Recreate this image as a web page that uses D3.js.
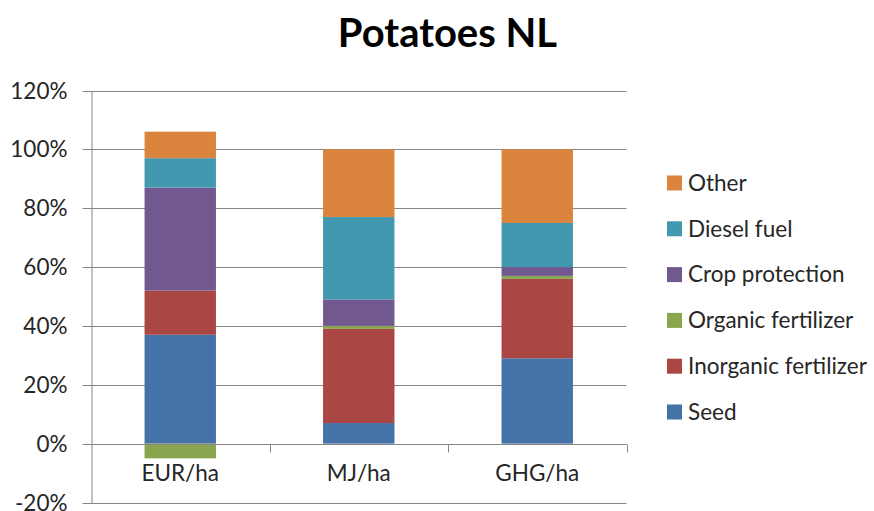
<!DOCTYPE html>
<html><head><meta charset="utf-8">
<script src="https://cdn.jsdelivr.net/npm/d3@7"></script>
<style>body{margin:0;background:#fff}svg{display:block}text{font-family:Lato,"Open Sans",sans-serif}</style>
</head><body><svg id="c" width="874" height="511"></svg>
<script>
const categories = ["EUR/ha", "MJ/ha", "GHG/ha"];
const seriesNames = ["Seed", "Inorganic fertilizer", "Organic fertilizer", "Crop protection", "Diesel fuel", "Other"];
const seed = [37, 7, 29];
const inorganic = [15, 32, 27];
const organic = [-5, 1, 1];
const crop = [35, 9, 3];
const diesel = [10, 28, 15];
const other = [9, 23, 25];
const yTicks = [-20, 0, 20, 40, 60, 80, 100, 120];
const colors = ["#4572A7", "#AA4643", "#89A54E", "#71588F", "#4198AF", "#DB843D"];

const seriesValues = [seed, inorganic, organic, crop, diesel, other];
const table = categories.map((c, i) => {
  const row = {cat: c};
  seriesNames.forEach((s, j) => row[s] = seriesValues[j][i]);
  return row;
});

const svg = d3.select("#c");
svg.append("rect").attr("width", 874).attr("height", 511).attr("fill", "#fff");
const left = 91, right = 626.5;
const x = d3.scaleBand().domain(categories).range([left, right]).paddingInner(0.6).paddingOuter(0.3);
const y = d3.scaleLinear().domain([-20, 120]).range([502.5, 90.5]);
const grid = "#868686";
const fs = 22.5;

// gridlines
svg.append("g").selectAll("line").data(yTicks).join("line")
  .attr("x1", left).attr("x2", right)
  .attr("y1", d => Math.round(y(d)) + 0.5).attr("y2", d => Math.round(y(d)) + 0.5)
  .attr("stroke", grid).attr("stroke-width", 1);

// y axis
const yAxis = svg.append("g").attr("transform", `translate(${left + 0.5},0)`)
  .call(d3.axisLeft(y).tickValues(yTicks).tickFormat(d => d + "%").tickSize(9).tickSizeOuter(0).tickPadding(15));
yAxis.select(".domain").attr("stroke", grid);
yAxis.selectAll(".tick line").attr("stroke", grid);
yAxis.selectAll(".tick").attr("transform", d => `translate(0,${Math.round(y(d)) + 0.5})`);
yAxis.selectAll("text").attr("font-size", fs).attr("fill", "#262626").attr("font-family", "Lato").attr("dy", "0.35em");

// bars
const stack = d3.stack().keys(seriesNames).offset(d3.stackOffsetDiverging);
const layers = stack(table);
svg.append("g").selectAll("g").data(layers).join("g")
  .attr("fill", (d, i) => colors[i])
  .selectAll("rect").data(d => d).join("rect")
  .attr("x", d => x(d.data.cat))
  .attr("width", x.bandwidth())
  .attr("y", d => y(Math.max(d[0], d[1])))
  .attr("height", d => Math.abs(y(d[0]) - y(d[1])));

// x axis on zero line
const y0 = Math.round(y(0)) + 0.5;
svg.append("line").attr("x1", left).attr("x2", right).attr("y1", y0).attr("y2", y0).attr("stroke", grid);
const step = x.step();
const bounds = categories.map((c, i) => left + step * (i + 1));
svg.append("g").selectAll("line").data(bounds).join("line")
  .attr("x1", d => Math.round(d) + 0.5).attr("x2", d => Math.round(d) + 0.5)
  .attr("y1", y0).attr("y2", y0 + 8).attr("stroke", grid);
svg.append("g").selectAll("text").data(categories).join("text")
  .attr("x", d => x(d) + x.bandwidth() / 2).attr("y", 481)
  .attr("text-anchor", "middle").attr("font-size", fs).attr("fill", "#262626").text(d => d);

// title
svg.append("text").attr("x", 447.5).attr("y", 47).attr("text-anchor", "middle")
  .attr("font-size", 40).attr("font-weight", "bold").attr("fill", "#000").text("Potatoes NL");

// legend
const legendOrder = seriesNames.map((s, i) => i).reverse();
const lg = svg.append("g").selectAll("g").data(legendOrder).join("g")
  .attr("transform", (d, k) => `translate(667,${183 + k * 45.8})`);
lg.append("rect").attr("x", 0).attr("y", -7.5).attr("width", 15).attr("height", 15).attr("fill", d => colors[d]);
lg.append("text").attr("x", 21).attr("y", 0).attr("dy", "0.35em").attr("font-size", fs).attr("fill", "#262626").text(d => seriesNames[d]);
</script></body></html>
